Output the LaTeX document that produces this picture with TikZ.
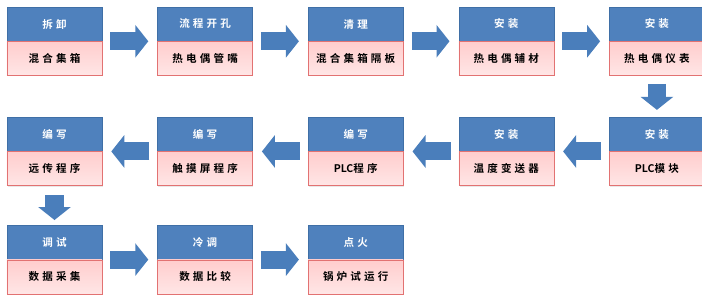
\documentclass[tikz,border=0pt]{standalone}
\usepackage{fontspec}
\newfontfamily\cjk{Noto Sans CJK SC}[BoldFont={Noto Sans CJK SC Bold},LetterSpace=30]
\usetikzlibrary{positioning,arrows.meta,shadows}
\definecolor{headblue}{HTML}{4F81BD}
\definecolor{headline}{HTML}{3F6FA6}
\definecolor{bodytop}{HTML}{FFCDCD}
\definecolor{bodybot}{HTML}{FFE6E6}
\definecolor{bodyline}{HTML}{E27272}
\definecolor{flowblue}{HTML}{4A7EBB}
\newcommand{\plc}{{\addfontfeature{LetterSpace=0}PLC}}
\tikzset{
  box/.style={minimum width=2.375cm, minimum height=0.85cm, inner sep=0pt,
    drop shadow={opacity=0.18, shadow xshift=0.6pt, shadow yshift=-0.6pt}},
  head/.style={box, draw=headline, fill=headblue, text=white,
    font=\cjk\bfseries\fontsize{7.5}{9}\selectfont},
  body/.style={box, draw=bodyline, top color=bodytop, bottom color=bodybot,
    font=\cjk\bfseries\fontsize{7.5}{9}\selectfont},
  flow/.style={flowblue, line width=0.45cm,
    -{Triangle[length=0.325cm, width=0.8cm]}}
}
\begin{document}
\begin{tikzpicture}[x=0.025cm, y=-0.025cm]
    \useasboundingbox (0,0) rectangle (702,297);

    % Primera fila
    \node[head] (h1) at (54.5,24) {拆卸};
    \node[body, below=0pt of h1] (b1) {混合集箱};
    \node[head, right=1.375cm of h1] (h2) {流程开孔};
    \node[body, below=0pt of h2] (b2) {热电偶管嘴};
    \node[head, right=1.375cm of h2] (h3) {清理};
    \node[body, below=0pt of h3] (b3) {混合集箱隔板};
    \node[head, right=1.375cm of h3] (h4) {安装};
    \node[body, below=0pt of h4] (b4) {热电偶辅材};
    \node[head, right=1.375cm of h4] (h5) {安装};
    \node[body, below=0pt of h5] (b5) {热电偶仪表};

    % Segunda fila (de derecha a izquierda)
    \node[head, below=1.025cm of b5] (h6) {安装};
    \node[body, below=0pt of h6] (b6) {\plc 模块};
    \node[head, left=1.375cm of h6] (h7) {安装};
    \node[body, below=0pt of h7] (b7) {温度变送器};
    \node[head, left=1.375cm of h7] (h8) {编写};
    \node[body, below=0pt of h8] (b8) {\plc 程序};
    \node[head, left=1.375cm of h8] (h9) {编写};
    \node[body, below=0pt of h9] (b9) {触摸屏程序};
    \node[head, left=1.375cm of h9] (h10) {编写};
    \node[body, below=0pt of h10] (b10) {远传程序};

    % Tercera fila
    \node[head, below=0.975cm of b10] (h11) {调试};
    \node[body, below=0pt of h11] (b11) {数据采集};
    \node[head, right=1.375cm of h11] (h12) {冷调};
    \node[body, below=0pt of h12] (b12) {数据比较};
    \node[head, right=1.375cm of h12] (h13) {点火};
    \node[body, below=0pt of h13] (b13) {锅炉试运行};

    % Flechas
    \foreach \a/\b in {h1/h2, h2/h3, h3/h4, h4/h5, h11/h12, h12/h13}
        \draw[flow, shorten <=0.2cm, shorten >=0.225cm] (\a.south east) -- (\b.south west);
    \foreach \a/\b in {h6/h7, h7/h8, h8/h9, h9/h10}
        \draw[flow, shorten <=0.2cm, shorten >=0.225cm] (\a.south west) -- (\b.south east);
    \draw[flow, shorten <=0.2cm, shorten >=0.175cm] (b5.south) -- (h6.north);
    \draw[flow, shorten <=0.225cm, shorten >=0.125cm] (b10.south) -- (h11.north);

\end{tikzpicture}
\end{document}
